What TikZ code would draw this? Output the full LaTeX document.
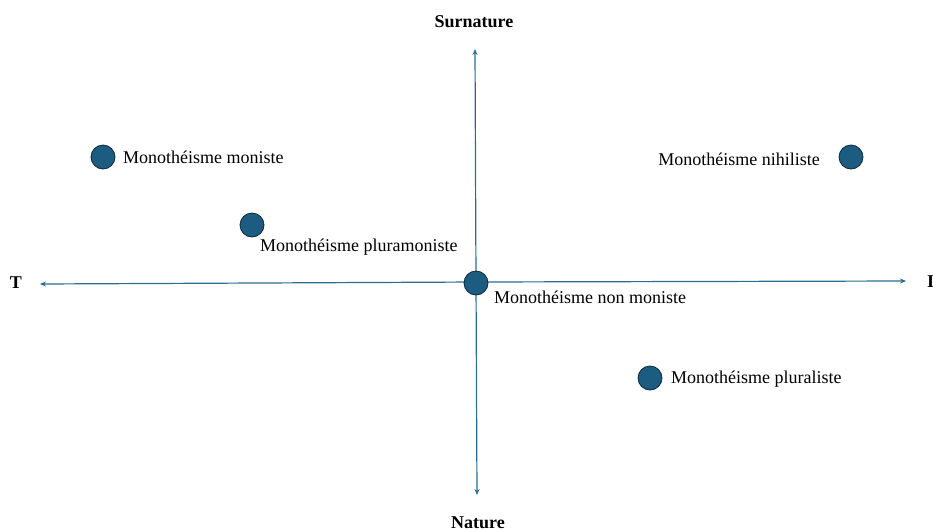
\documentclass[tikz,border=0pt]{standalone}
\usepackage{fontspec}
\setmainfont{Liberation Serif}
\usetikzlibrary{arrows.meta}
\definecolor{axisblue}{RGB}{40,110,145}
\definecolor{dotblue}{RGB}{27,92,128}
\definecolor{dotline}{RGB}{15,40,60}
\begin{document}
\begin{tikzpicture}[x=1pt,y=-1pt,
  axis/.style={draw=axisblue,line width=1.2pt,-{Stealth[length=6pt,width=5pt]}},
  dot/.style={circle,fill=dotblue,draw=dotline,line width=0.8pt,minimum size=24pt,inner sep=0pt},
  lbl/.style={font=\fontsize{18}{20}\selectfont,inner sep=0pt},
  ttl/.style={font=\fontsize{18}{20}\selectfont\bfseries,inner sep=0pt}]
\useasboundingbox (0,0) rectangle (933,531);
\clip (0,0) rectangle (933,531);
\coordinate (c) at (476,282);
\coordinate (L) at (40,284);
\coordinate (R) at (906,281);
\coordinate (U) at (475,49);
\coordinate (D) at (477,495);
\draw[axis] (c) -- (L);
\draw[axis] (c) -- (R);
\draw[axis] (c) -- (U);
\draw[axis] (c) -- (D);
\node[dot] (d0) at (476,283) {};
\node[dot] (d1) at (103,157) {};
\node[dot] (d2) at (252,225) {};
\node[dot] (d3) at (851,157) {};
\node[dot] (d4) at (650,378) {};
\node[lbl,anchor=west] (t1) at (123,157) {Monothéisme moniste};
\node[lbl,anchor=west] (t2) at (260,247) {Monothéisme pluramoniste};
\node[lbl,anchor=west] (t0) at (494,297) {Monothéisme non moniste};
\node[lbl,anchor=east] (t3) at (820,159) {Monothéisme nihiliste};
\node[lbl,anchor=west] (t4) at (671,379) {Monothéisme pluraliste};
\node[ttl] (s) at (474,22) {Surnature};
\node[ttl] (n) at (478,523) {Nature};
\node[ttl] (T) at (16,283) {T};
\node[ttl,anchor=west] (I) at (927,282) {I};
\end{tikzpicture}
\end{document}
